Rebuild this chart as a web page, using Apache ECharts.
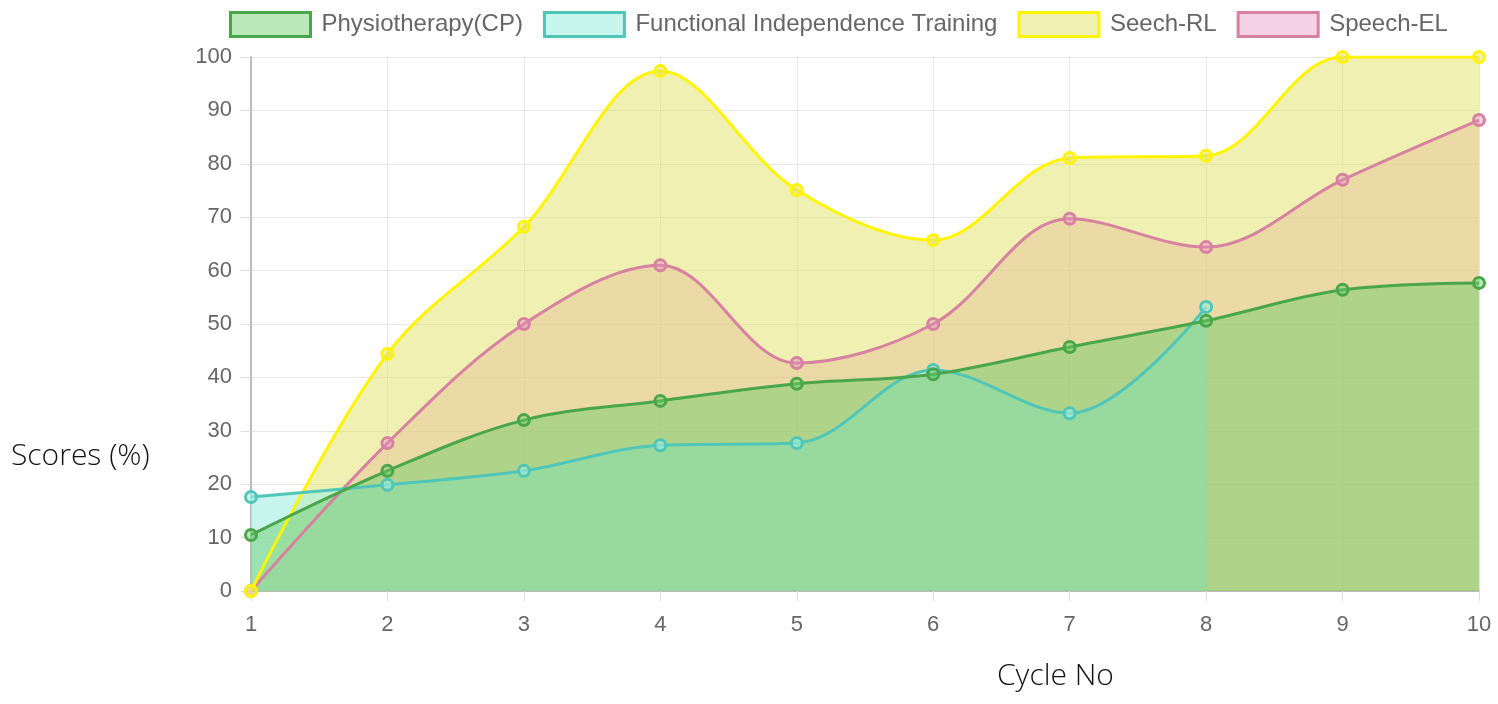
<!DOCTYPE html>
<html><head><meta charset="utf-8">
<script src="https://cdn.jsdelivr.net/npm/echarts@6/dist/echarts.min.js"></script>
<style>html,body{margin:0;padding:0;background:#fff}#c{width:1498px;height:704px}</style>
</head><body><div id="c"></div>
<script>
const categories = ['1','2','3','4','5','6','7','8','9','10'];
const physiotherapy = [10.5, 22.5, 32, 35.6, 38.8, 40.6, 45.7, 50.6, 56.4, 57.7];
const functionalIndependence = [17.6, 19.9, 22.5, 27.3, 27.7, 41.4, 33.3, 53.2, null, null];
const seechRL = [0, 44.4, 68.2, 97.4, 75.1, 65.7, 81.1, 81.5, 100, 100];
const speechEL = [0, 27.7, 50, 61, 42.7, 50, 69.7, 64.4, 77, 88.2];
const seriesNames = ['Physiotherapy(CP)', 'Functional Independence Training', 'Seech-RL', 'Speech-EL'];

const lineColors = ['rgb(74,166,74)', 'rgb(80,198,184)', 'rgb(255,245,0)', 'rgb(216,130,162)'];
const fillColors = ['rgba(104,204,104,0.45)', 'rgba(163,238,225,0.6)', 'rgba(225,225,101,0.5)', 'rgba(230,142,197,0.4)'];
const dataSets = [physiotherapy, functionalIndependence, seechRL, speechEL];

const chart = echarts.init(document.getElementById('c'));
const series = [];
dataSets.forEach((d, i) => {
  series.push({
    name: seriesNames[i],
    type: 'line',
    data: d,
    smooth: 0.35,
    z: 5 - i,
    symbol: 'none',
    showSymbol: false,
    silent: true,
    lineStyle: { width: 0, opacity: 0 },
    itemStyle: { color: fillColors[i] },
    areaStyle: { color: fillColors[i], opacity: 1, origin: 'start' },
    emphasis: { disabled: true }
  });
  series.push({
    name: seriesNames[i],
    type: 'line',
    data: d,
    smooth: 0.35,
    z: 20 - i,
    symbol: 'circle',
    symbolSize: 11,
    showSymbol: true,
    lineStyle: { color: lineColors[i], width: 3 },
    itemStyle: { color: fillColors[i], borderColor: lineColors[i], borderWidth: 3 },
    emphasis: { disabled: true }
  });
});

chart.setOption({
  animation: false,
  legend: {
    top: 6,
    left: 224,
    itemWidth: 80,
    itemHeight: 24,
    itemGap: 20,
    textStyle: { fontFamily: 'Liberation Sans, Arial', fontSize: 24, color: '#666', padding: [0, 0, 0, 6] },
    data: seriesNames.map((n, i) => ({
      name: n, icon: 'rect',
      itemStyle: { color: fillColors[i], borderColor: lineColors[i], borderWidth: 3 }
    }))
  },
  grid: { left: 251, right: 19, top: 57, bottom: 113, containLabel: false },
  xAxis: {
    type: 'category',
    data: categories,
    boundaryGap: false,
    axisLine: { lineStyle: { color: '#bbb', width: 2 } },
    axisTick: { show: true, length: 10, lineStyle: { color: '#ddd' } },
    axisLabel: { margin: 23, fontSize: 22, color: '#666', fontFamily: 'Liberation Sans, Arial' },
    splitLine: { show: true, lineStyle: { color: '#e6e6e6' } }
  },
  yAxis: {
    type: 'value',
    min: 0, max: 100, interval: 10,
    axisLine: { show: true, lineStyle: { color: '#bbb', width: 2 } },
    axisTick: { show: true, length: 10, lineStyle: { color: '#ddd' } },
    axisLabel: { margin: 19, fontSize: 22, color: '#666', fontFamily: 'Liberation Sans, Arial' },
    splitLine: { show: true, lineStyle: { color: '#e6e6e6' } }
  },
  graphic: [
    { type: 'text', left: 11, top: 441, style: { text: 'Scores (%)', fontSize: 30, fontFamily: 'Open Sans', fontWeight: 300, fill: '#111' } },
    { type: 'text', left: 997, top: 661, style: { text: 'Cycle No', fontSize: 30, fontFamily: 'Open Sans', fontWeight: 300, fill: '#111' } }
  ],
  series: series
});
</script>
</body></html>
